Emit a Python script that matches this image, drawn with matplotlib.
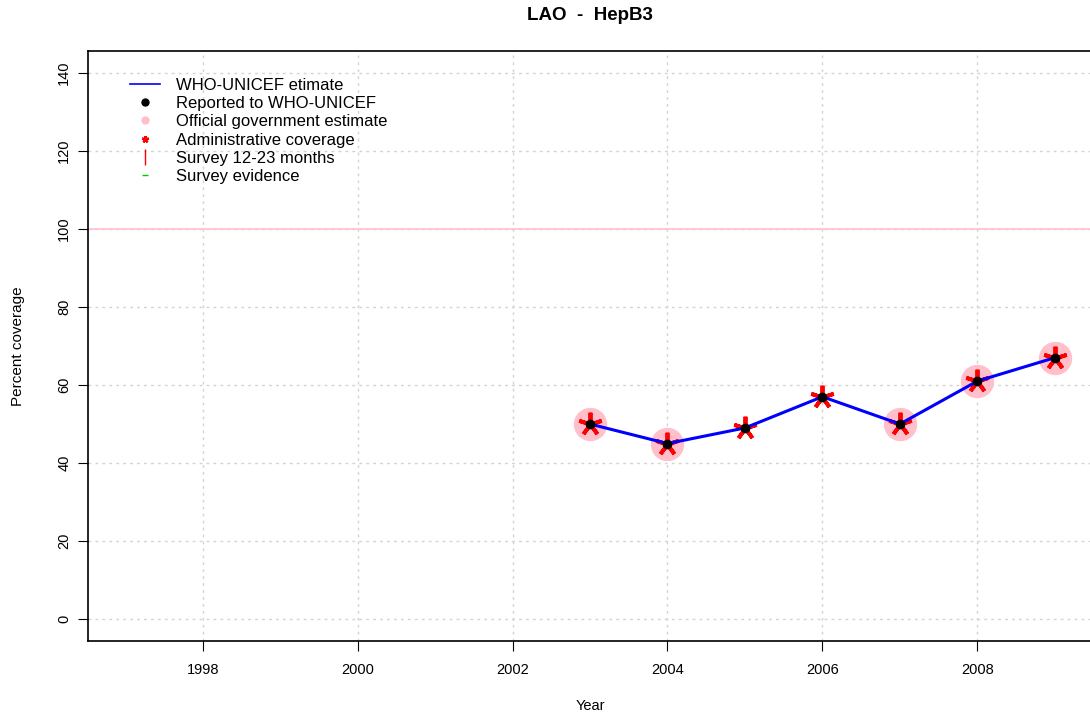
import matplotlib.pyplot as plt
from matplotlib.lines import Line2D

plt.rcParams['font.family'] = ['Liberation Sans', 'DejaVu Sans']

# data
years = [2003, 2004, 2005, 2006, 2007, 2008, 2009]
wuenic = [50, 45, 49, 57, 50, 61, 67]
reported = [50, 45, 49, 57, 50, 61, 67]
admin = [50, 45, 49, 57, 50, 61, 67]
gov_years = [2003, 2004, 2007, 2008, 2009]
gov_est = [50, 45, 50, 61, 67]

fig = plt.figure(figsize=(10.9, 7.18), dpi=100)
ax = fig.add_axes([88 / 1090, 77 / 718, (1092 - 88) / 1090, (641 - 51) / 718])

ax.grid(True, color='#d3d3d3', linestyle=(0, (2, 3)), linewidth=1)
ax.axhline(100, color='#ffc0cb', linewidth=1.2)

asterisk = (5, 2, 0)
ax.plot(gov_years, gov_est, 'o', color='#ffc0cb', markersize=23, zorder=2)
ax.plot(years, admin, marker=asterisk, linestyle='none', color='red',
        markeredgecolor='red', markersize=17, markeredgewidth=2.8, zorder=3)
ax.plot(years, wuenic, '-', color='blue', linewidth=2.2, zorder=4)
ax.plot(years, reported, 'o', color='black', markersize=6, zorder=5)

ax.set_xlim(1996.52, 2009.48)
ax.set_ylim(-5.6, 145.6)
ax.set_xticks(range(1998, 2010, 2))
ax.set_yticks(range(0, 141, 20))
ax.tick_params(direction='out', length=7, labelsize=10.5)
for lab in ax.get_yticklabels():
    lab.set_rotation(90)
    lab.set_va('center')
ax.tick_params(axis='x', pad=9)
ax.tick_params(axis='y', pad=5)
for s in ax.spines.values():
    s.set_linewidth(1.2)

fig.text(590 / 1090, 1 - 16 / 718, 'LAO  -  HepB3', ha='center', va='center',
         fontsize=13.5, fontweight='bold')
fig.text(590 / 1090, 1 - 706 / 718, 'Year', ha='center', va='center', fontsize=10.5)
fig.text(18 / 1090, 1 - 346 / 718, 'Percent coverage', ha='center', va='center',
         rotation=90, fontsize=11)

handles = [
    Line2D([], [], color='blue', linewidth=1.2),
    Line2D([], [], color='black', marker='o', linestyle='none', markersize=5),
    Line2D([], [], color='#ffc0cb', marker='o', linestyle='none', markersize=5),
    Line2D([], [], color='red', marker=asterisk, linestyle='none', markersize=5,
           markeredgewidth=1.5),
    Line2D([], [], color='red', marker='|', linestyle='none', markersize=11),
    Line2D([], [], color='#00cc00', marker='_', linestyle='none', markersize=4),
]
labels = ['WHO-UNICEF etimate', 'Reported to WHO-UNICEF', 'Official government estimate',
          'Administrative coverage', 'Survey 12-23 months', 'Survey evidence']
ax.legend(handles, labels, loc='upper left', bbox_to_anchor=(0.042, 0.955), frameon=False,
          fontsize=12, handlelength=1.8, labelspacing=0.2, handletextpad=0.95,
          borderaxespad=0, borderpad=0)

fig.savefig('out.png', dpi=100)
